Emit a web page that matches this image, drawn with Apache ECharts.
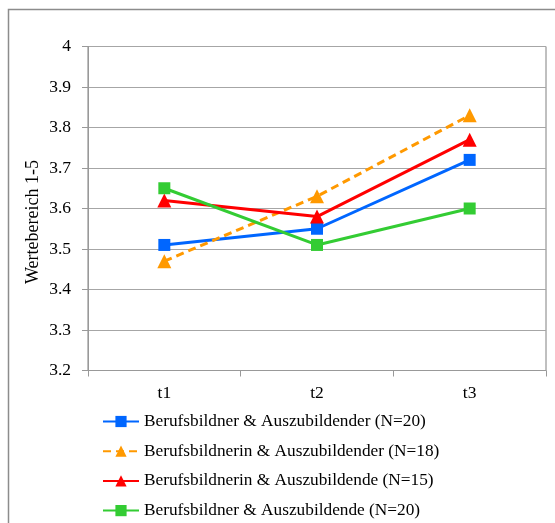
<!DOCTYPE html>
<html>
<head>
<meta charset="utf-8">
<script src="https://cdn.jsdelivr.net/npm/echarts@6/dist/echarts.min.js"></script>
<style>
  html, body { margin: 0; padding: 0; background: #fff; }
  #chart { width: 555px; height: 523px; }
</style>
</head>
<body>
<div id="chart"></div>
<script>
// Zeitpunkte der Messung
const categories = ['t1', 't2', 't3'];

// Mittelwerte je Dyade
const seriesNames = [
  'Berufsbildner & Auszubildender (N=20)',
  'Berufsbildnerin & Auszubildender (N=18)',
  'Berufsbildnerin & Auszubildende (N=15)',
  'Berufsbildner & Auszubildende (N=20)'
];
const mannMann = [3.51, 3.55, 3.72];
const frauMann = [3.47, 3.63, 3.83];
const frauFrau = [3.62, 3.58, 3.77];
const mannFrau = [3.65, 3.51, 3.60];

// Achse
const yMin = 3.2;
const yMax = 4;
const yStep = 0.1;
const yAxisTitle = 'Wertebereich 1-5';

const font = '"Liberation Serif", "Times New Roman", serif';

function lineSeries(name, data, color, symbol, size, dashed) {
  return {
    name: name,
    type: 'line',
    data: data,
    symbol: symbol,
    symbolSize: size,
    lineStyle: { color: color, width: 3, type: dashed ? [8, 5] : 'solid' },
    itemStyle: { color: color },
    emphasis: { disabled: true },
    animation: false
  };
}

const chart = echarts.init(document.getElementById('chart'), null, { renderer: 'canvas' });
chart.setOption({
  backgroundColor: '#fff',
  textStyle: { fontFamily: font },
  graphic: [{
    type: 'rect',
    shape: { x: 8.5, y: 9.5, width: 560, height: 530 },
    style: { fill: 'none', stroke: '#8c8c8c', lineWidth: 1.5 },
    silent: true,
    z: -1
  }, {
    // Achsentitel der Werteachse
    type: 'text',
    x: 33,
    y: 222,
    rotation: Math.PI / 2,
    style: {
      text: yAxisTitle,
      fill: '#000',
      font: '18px ' + font,
      align: 'center',
      verticalAlign: 'middle'
    },
    silent: true
  }],
  grid: {
    left: 88, top: 46.5, right: 9, bottom: 152.5,
    show: true, borderColor: '#808080', borderWidth: 1
  },
  xAxis: {
    type: 'category',
    data: categories,
    boundaryGap: true,
    axisLine: { lineStyle: { color: '#999', width: 1 } },
    axisTick: { show: true, length: 6, lineStyle: { color: '#999' }, alignWithLabel: false },
    axisLabel: { color: '#000', fontFamily: font, fontSize: 17.5, margin: 14 }
  },
  yAxis: {
    type: 'value',
    min: yMin, max: yMax, interval: yStep,
    axisLine: { show: true, lineStyle: { color: '#999', width: 1 } },
    axisTick: { show: true, length: 6, lineStyle: { color: '#999' } },
    axisLabel: {
      color: '#000', fontFamily: font, fontSize: 17.5, margin: 17,
      formatter: v => String(Math.round(v * 10) / 10)
    },
    splitLine: { show: true, lineStyle: { color: '#a6a6a6', width: 1 } }
  },
  legend: {
    orient: 'vertical',
    left: 97,
    top: 406,
    padding: [7, 5, 0, 5],
    itemGap: 12.7,
    itemWidth: 36,
    itemHeight: 14,
    textStyle: { color: '#000', fontFamily: font, fontSize: 17.3 },
    data: seriesNames
  },
  series: [
    lineSeries(seriesNames[0], mannMann, '#0066ff', 'rect', 12, false),
    lineSeries(seriesNames[1], frauMann, '#ff9900', 'triangle', 14, true),
    lineSeries(seriesNames[2], frauFrau, '#ff0000', 'triangle', 14, false),
    lineSeries(seriesNames[3], mannFrau, '#33cc33', 'rect', 12, false)
  ]
});
</script>
</body>
</html>
